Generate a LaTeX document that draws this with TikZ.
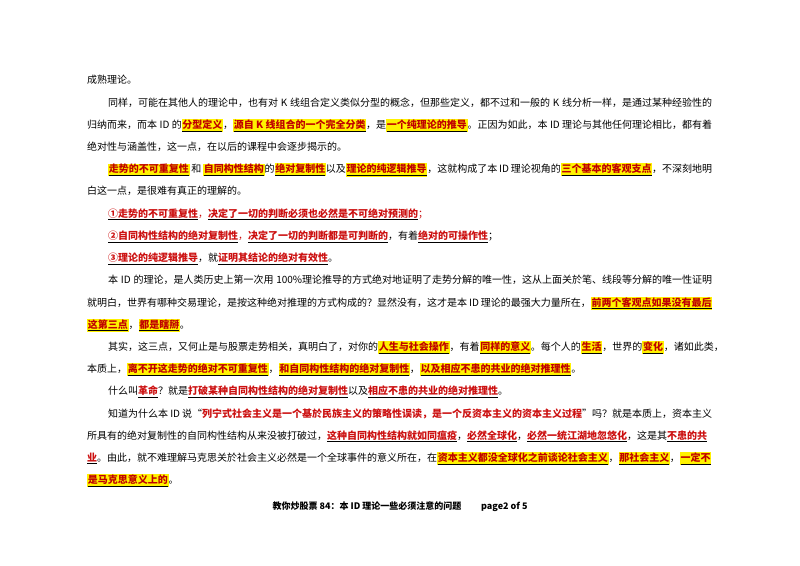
\documentclass[tikz,border=0pt]{standalone}
\usepackage{fontspec}
\setmainfont{Noto Sans CJK SC}
\XeTeXlinebreaklocale "zh"
\XeTeXlinebreakskip=0pt plus 3pt minus 0.6pt
\definecolor{hred}{HTML}{C00000}
\definecolor{rd}{HTML}{CC1010}
\newcommand\hy[1]{{\fboxsep=0.7pt\colorbox{yellow}{\underline{\textcolor{hred}{\bfseries #1}}}}}
\newcommand\rd[1]{\underline{\textcolor{rd}{\bfseries #1}}}
\newcommand\FW[1]{\hbox to 625bp{#1}}
\newcommand\IW[1]{\hbox to 604bp{#1}}
\begin{document}
\begin{tikzpicture}[x=1bp,y=-1bp,
  ln/.style={anchor=base west,inner sep=0pt,font=\fontsize{10bp}{12bp}\selectfont},
  ft/.style={anchor=base,inner sep=0pt,font=\fontsize{9bp}{11bp}\selectfont\bfseries}]
\useasboundingbox[fill=white] (0,0) rectangle (800,566);
\node[ln] (l0) at (87,84) {成熟理论。};
\node[ln] (l1) at (108,106.2) {\IW{同样，可能在其他人的理论中，也有对 K 线组合定义类似分型的概念，但那些定义，都不过和一般的 K 线分析一样，是通过某种经验性的}};
\node[ln] (l2) at (87,128.4) {\FW{归纳而来，而本 ID 的\hy{分型定义}，\hy{源自 K 线组合的一个完全分类}，是\hy{一个纯理论的推导}。正因为如此，本 ID 理论与其他任何理论相比，都有着}};
\node[ln] (l3) at (87,150.6) {绝对性与涵盖性，这一点，在以后的课程中会逐步揭示的。};
\node[ln] (l4) at (108,172.8) {\IW{\hy{走势的不可重复性} 和 \hy{自同构性结构}的\hy{绝对复制性}以及\hy{理论的纯逻辑推导}，这就构成了本 ID 理论视角的\hy{三个基本的客观支点}，不深刻地明}};
\node[ln] (l5) at (87,195) {白这一点，是很难有真正的理解的。};
\node[ln] (l6) at (108,217.2) {\rd{①走势的不可重复性}\textcolor{rd}{，}\rd{决定了一切的判断必须也必然是不可绝对预测的}\textcolor{rd}{；}};
\node[ln] (l7) at (108,239.4) {\rd{②自同构性结构的绝对复制性}\textcolor{rd}{，}\rd{决定了一切的判断都是可判断的}，有着\rd{绝对的可操作性}；};
\node[ln] (l8) at (108,261.6) {\rd{③理论的纯逻辑推导}，就\rd{证明其结论的绝对有效性}。};
\node[ln] (l9) at (108,283.8) {\IW{本 ID 的理论，是人类历史上第一次用 100\%理论推导的方式绝对地证明了走势分解的唯一性，这从上面关於笔、线段等分解的唯一性证明}};
\node[ln] (l10) at (87,306) {\FW{就明白，世界有哪种交易理论，是按这种绝对推理的方式构成的？显然没有，这才是本 ID 理论的最强大力量所在，\hy{前两个客观点如果没有最后}}};
\node[ln] (l11) at (87,328.2) {\hy{这第三点}，\hy{都是瞎掰}。};
\node[ln] (l12) at (108,350.4) {\IW{其实，这三点，又何止是与股票走势相关，真明白了，对你的\hy{人生与社会操作}，有着\hy{同样的意义}。每个人的\hy{生活}，世界的\hy{变化}，诸如此类，}};
\node[ln] (l13) at (87,372.6) {本质上，\hy{离不开这走势的绝对不可重复性}，\hy{和自同构性结构的绝对复制性}，\hy{以及相应不患的共业的绝对推理性}。};
\node[ln] (l14) at (108,394.8) {什么叫\rd{革命}？就是\rd{打破某种自同构性结构的绝对复制性}以及\rd{相应不患的共业的绝对推理性}。};
\node[ln] (l15) at (108,417) {\IW{知道为什么本 ID 说“\textcolor{rd}{\bfseries 列宁式社会主义是一个基於民族主义的策略性误读，是一个反资本主义的资本主义过程}”吗？就是本质上，资本主义}};
\node[ln] (l16) at (87,439.2) {\FW{所具有的绝对复制性的自同构性结构从来没被打破过，\rd{这种自同构性结构就如同瘟疫}，\rd{必然全球化}，\rd{必然一统江湖地忽悠化}，这是其\rd{不患的共}}};
\node[ln] (l17) at (87,461.4) {\FW{\rd{业}。由此，就不难理解马克思关於社会主义必然是一个全球事件的意义所在，在\hy{资本主义都没全球化之前谈论社会主义}，\hy{那社会主义}，\hy{一定不}}};
\node[ln] (l18) at (87,483.6) {\hy{是马克思意义上的}。};
\node[ft] (foot) at (400,509) {教你炒股票 84：本 ID 理论一些必须注意的问题\hspace{2.2em}page2 of 5};
\end{tikzpicture}
\end{document}
